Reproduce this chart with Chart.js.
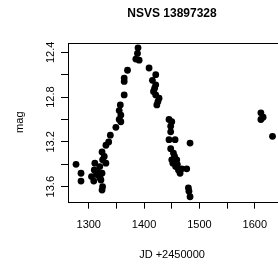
<!DOCTYPE html>
<html>
<head>
<meta charset="utf-8">
<script src="https://cdn.jsdelivr.net/npm/chart.js@4"></script>
<style>
  html, body { margin: 0; padding: 0; background: #fff; overflow: hidden; }
</style>
</head>
<body>
<canvas id="chart" width="344" height="267"></canvas>
<script>
// light curve points (JD - 2450000, magnitude)
const jd = [
    1277, 1286, 1286, 1305, 1309, 1311, 1310, 1314, 1318, 1322,
    1324, 1325, 1324, 1320, 1325, 1324, 1331, 1331, 1336, 1339,
    1349, 1358, 1355, 1358, 1355, 1357, 1364, 1364, 1364, 1370,
    1385, 1391, 1388, 1389, 1315, 1328, 1320,
    1409, 1415, 1421, 1421, 1417, 1421, 1427, 1423, 1425, 1419,
    1445, 1450, 1448, 1448, 1445, 1456, 1483, 1448, 1453, 1450,
    1459, 1457, 1462, 1468, 1477, 1465, 1455, 1460, 1452, 1480,
    1481, 1483,
    1611, 1611, 1615, 1632
];
const mag = [
    13.40, 13.48, 13.55, 13.51, 13.55, 13.39, 13.45, 13.49, 13.50, 13.54,
    13.48, 13.60, 13.63, 13.42, 13.36, 13.29, 13.39, 13.23, 13.20, 13.14,
    13.07, 13.02, 13.00, 12.96, 12.92, 12.87, 12.78, 12.66, 12.63, 12.56,
    12.46, 12.47, 12.41, 12.36, 13.47, 13.33, 13.52,
    12.54, 12.65, 12.60, 12.69, 12.75, 12.78, 12.81, 12.87, 12.84, 12.72,
    13.00, 13.02, 13.06, 13.11, 13.18, 13.18, 13.21, 13.26, 13.30, 13.36,
    13.36, 13.42, 13.45, 13.44, 13.44, 13.48, 13.33, 13.40, 13.39, 13.61,
    13.64, 13.69,
    12.94, 13.00, 12.98, 13.15
];

const xTicks = [1300, 1350, 1400, 1450, 1500, 1550, 1600, 1650, 1700, 1750];
const xTickLabels = ['1300', '', '1400', '', '1500', '', '1600', '', '1700', ''];
const yTicks = [12.4, 12.6, 12.8, 13.0, 13.2, 13.4, 13.6];
const yTickLabels = ['12.4', '', '12.8', '', '13.2', '', '13.6'];

Chart.defaults.font.family = '"Liberation Sans", Arial, sans-serif';
Chart.defaults.font.size = 11;
Chart.defaults.color = '#000';

// box around the plot region
const plotBox = {
    id: 'plotBox',
    afterDraw(chart) {
        const { ctx, chartArea: a } = chart;
        ctx.save();
        ctx.strokeStyle = '#000';
        ctx.lineWidth = 1;
        ctx.strokeRect(Math.round(a.left) + 0.5, Math.round(a.top) + 0.5,
            Math.round(a.right - a.left), Math.round(a.bottom - a.top));
        ctx.restore();
    }
};

const tickGrid = {
    display: true,
    drawOnChartArea: false,
    drawTicks: true,
    tickLength: 7,
    color: '#000',
    lineWidth: 1
};

new Chart(document.getElementById('chart'), {
    type: 'scatter',
    data: {
        datasets: [{
            data: jd.map((x, i) => ({ x: x, y: mag[i] })),
            backgroundColor: '#000',
            borderColor: '#000',
            pointRadius: 3.4,
            pointHoverRadius: 3.4,
            borderWidth: 0
        }]
    },
    options: {
        responsive: false,
        animation: false,
        layout: { padding: 0 },
        scales: {
            x: {
                type: 'linear',
                min: 1262.5,
                max: 1755,
                grid: tickGrid,
                border: { display: false },
                afterBuildTicks: (scale) => {
                    scale.ticks = xTicks.map(v => ({ value: v }));
                },
                // keep the plot region running off the right edge
                afterFit: (scale) => {
                    scale.paddingLeft = 0;
                    scale.paddingRight = 0;
                },
                ticks: {
                    padding: 10,
                    maxRotation: 0,
                    autoSkip: false,
                    callback: (value) => {
                        const i = xTicks.indexOf(value);
                        return i >= 0 ? xTickLabels[i] : '';
                    }
                }
            },
            y: {
                type: 'linear',
                reverse: true,
                min: 12.314,
                max: 13.734,
                grid: tickGrid,
                border: { display: false },
                afterFit: (scale) => {
                    scale.width = 68;
                    scale.paddingTop = 0;
                    scale.paddingBottom = 0;
                },
                afterBuildTicks: (scale) => {
                    scale.ticks = yTicks.map(v => ({ value: v }));
                },
                title: {
                    display: true,
                    text: 'mag',
                    font: { size: 11 },
                    padding: { top: 13, bottom: 0 }
                },
                ticks: {
                    padding: -1,
                    minRotation: 90,
                    maxRotation: 90,
                    crossAlign: 'center',
                    autoSkip: false,
                    callback: (value) => {
                        const i = yTicks.findIndex(t => Math.abs(t - value) < 1e-6);
                        return i >= 0 ? yTickLabels[i] : '';
                    }
                }
            }
        },
        plugins: {
            legend: { display: false },
            tooltip: { enabled: false },
            title: {
                display: true,
                text: 'NSVS 13897328',
                font: { size: 12, weight: 'bold' },
                padding: { top: 6, bottom: 22.3 }
            },
            subtitle: {
                display: true,
                text: 'JD +2450000',
                position: 'bottom',
                font: { size: 11 },
                padding: { top: 6.5, bottom: 5.4 }
            }
        }
    },
    plugins: [plotBox]
});
</script>
</body>
</html>
